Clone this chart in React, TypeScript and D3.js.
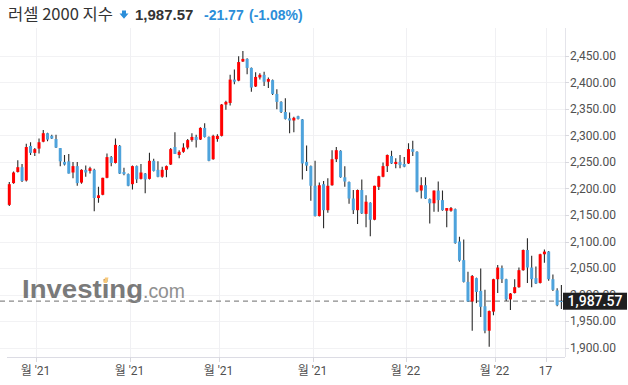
import React from "react";
import * as d3 from "d3";

const openV = [2169,2210,2231,2240,2215,2280,2267,2275,2288,2304,2299,2293,2276,2250,2251,2230,2242,2211,2235,2233,2235,2182,2188,2220,2259,2248,2280,2231,2227,2208,2242,2218,2228,2218,2252,2235,2222,2235,2245,2278,2263,2269,2277,2291,2297,2292,2314,2297,2255,2293,2299,2358,2361,2405,2403,2439,2444,2427,2392,2409,2414,2401,2404,2378,2363,2344,2332,2328,2336,2330,2250,2242,2205,2148,2208,2159,2206,2255,2271,2221,2212,2181,2159,2197,2152,2173,2141,2203,2222,2242,2261,2246,2250,2246,2247,2274,2269,2196,2206,2180,2172,2196,2178,2158,2158,2161,2100,2065,2024,1987,2031,2007,1978,1932,1968,2029,2050,2029,1991,2003,2014,2046,2084,2051,2031,2022,2076,2081,2029,2008,1988];
const highV = [2212,2232,2253,2246,2284,2287,2276,2294,2310,2305,2301,2301,2276,2263,2265,2250,2250,2236,2243,2241,2237,2203,2220,2266,2261,2294,2282,2239,2228,2243,2243,2246,2229,2267,2256,2251,2241,2243,2276,2306,2272,2285,2293,2304,2301,2315,2323,2298,2301,2302,2359,2365,2414,2424,2449,2459,2445,2428,2419,2417,2420,2409,2405,2387,2364,2370,2343,2335,2337,2331,2281,2243,2252,2211,2214,2219,2272,2278,2272,2242,2213,2197,2198,2217,2187,2174,2205,2224,2249,2264,2271,2257,2263,2259,2285,2290,2270,2221,2221,2181,2196,2213,2196,2163,2165,2162,2109,2104,2043,2037,2032,2049,2009,1970,2030,2056,2055,2030,2003,2029,2051,2085,2106,2073,2053,2077,2085,2082,2038,2012,2018];
const lowV = [2167,2209,2230,2212,2213,2263,2261,2266,2287,2289,2293,2276,2242,2243,2228,2219,2205,2209,2222,2228,2157,2173,2187,2219,2242,2247,2227,2225,2204,2198,2210,2217,2191,2217,2232,2221,2220,2221,2244,2265,2257,2267,2274,2288,2277,2291,2296,2251,2254,2288,2298,2348,2356,2396,2402,2438,2415,2382,2391,2405,2393,2389,2376,2349,2342,2330,2304,2306,2330,2217,2233,2177,2147,2147,2125,2154,2205,2250,2220,2203,2171,2152,2133,2152,2127,2110,2140,2197,2221,2231,2246,2238,2238,2240,2246,2261,2193,2181,2180,2134,2156,2156,2158,2127,2156,2096,2062,2023,1986,1932,1984,1958,1927,1902,1961,2003,2022,1988,1971,2002,2013,2045,2022,2014,2020,2021,2060,2026,2007,1978,1973];
const closeV = [2208,2230,2240,2214,2278,2267,2274,2287,2304,2292,2294,2277,2251,2245,2228,2242,2210,2235,2230,2238,2182,2187,2220,2259,2248,2282,2228,2227,2205,2242,2217,2230,2217,2252,2233,2222,2235,2242,2274,2265,2269,2277,2291,2297,2291,2314,2297,2252,2299,2299,2358,2363,2405,2401,2438,2444,2427,2390,2410,2414,2401,2406,2378,2363,2344,2331,2328,2333,2331,2247,2243,2205,2148,2206,2159,2205,2255,2272,2221,2213,2181,2159,2197,2153,2175,2141,2205,2223,2242,2263,2247,2250,2244,2241,2274,2269,2194,2206,2181,2172,2196,2178,2159,2163,2163,2097,2064,2024,1987,2035,2005,1977,1932,1969,2029,2051,2029,1991,2002,2014,2046,2084,2051,2029,2021,2076,2081,2029,2009,1980,1987.57];

const yTickValues = [1900,1950,2000,2050,2100,2150,2200,2250,2300,2350,2400,2450];
const xTickIndex = [7,29,50,72,94,115,127];
const xTickLabels = ["월 '21","월 '21","월 '21","월 '21","월 '22","월 '22","17"];

const titleText = "러셀 2000 지수";
const lastPrice = 1987.57;
const changeText = "-21.77";
const changePctText = "(-1.08%)";

const RED = "#ff0000";
const BLUE = "#4ea3dc";
const WICK = "#2a2a2a";
const HEAD_BLUE = "#2b8ed9";

export default function App() {
  const N = openV.length;
  const x = d3.scaleLinear().domain([0, N - 1]).range([9.3, 561.4]);
  const y = d3.scaleLinear().domain([1900, 2450]).range([347.7, 55.7]);
  const fmt = d3.format(",.2f");
  const plotTop = 28;
  const plotBottom = 357;
  const axisX = 565;
  const bodyW = 3;
  const py = y(lastPrice);

  return (
    <svg width={628} height={385} style={{ position: "absolute", left: 0, top: 0, background: "#fff" }}
      fontFamily="Roboto, 'Noto Sans', sans-serif">
      <defs>
        <clipPath id="plotclip">
          <rect x={0} y={plotTop} width={562.5} height={plotBottom - plotTop} />
        </clipPath>
      </defs>
      {yTickValues.map((v) => (
        <line key={"hg" + v} x1={0} x2={axisX} y1={Math.round(y(v)) + 0.5} y2={Math.round(y(v)) + 0.5}
          stroke="#f2f2f4" strokeWidth={1} />
      ))}
      {xTickIndex.map((i, k) => (
        <line key={"vg" + k} x1={Math.round(x(i - 0.6)) + 0.5} x2={Math.round(x(i - 0.6)) + 0.5}
          y1={plotTop} y2={plotBottom} stroke="#f0f0f3" strokeWidth={1} />
      ))}
      <g opacity={0.9}>
        <text x={22} y={298} fontFamily="'Liberation Sans', Arial, sans-serif" fontWeight="bold" fontSize={26}
          fill="#6c6c6c" textLength={121} lengthAdjust="spacingAndGlyphs">Investing</text>
        <text x={143} y={298} fontFamily="'Liberation Sans', Arial, sans-serif" fontSize={20}
          fill="#858585" textLength={42} lengthAdjust="spacingAndGlyphs">.com</text>
        <path d="M103.5,283 L105,277.5 L108.5,277.5 L107,283 Z" fill="#f8c36b" />
      </g>
      <line x1={0} x2={563} y1={py} y2={py} stroke="#8a8a8a" strokeWidth={1.3} strokeDasharray="5,4" />
      <g clipPath="url(#plotclip)">
        {openV.map((o, i) => {
          const c = closeV[i];
          const up = c >= o;
          const cx = x(i);
          const top = y(Math.max(o, c));
          const bot = y(Math.min(o, c));
          return (
            <g key={"c" + i}>
              <line x1={cx} x2={cx} y1={y(highV[i])} y2={y(lowV[i])} stroke={WICK} strokeWidth={1.1} />
              <rect x={cx - bodyW / 2} y={top} width={bodyW} height={Math.max(1, bot - top)} fill={up ? RED : BLUE} />
            </g>
          );
        })}
      </g>
      <line x1={axisX + 0.5} x2={axisX + 0.5} y1={plotTop} y2={plotBottom} stroke="#e4e4ea" strokeWidth={1} />
      {yTickValues.map((v) => (
        <g key={"yt" + v}>
          <line x1={axisX} x2={axisX + 4} y1={Math.round(y(v)) + 0.5} y2={Math.round(y(v)) + 0.5} stroke="#d8d8de" />
          <text x={570} y={y(v)} dy="0.36em" fontSize={12} fill="#505050">{fmt(v)}</text>
        </g>
      ))}
      <rect x={563} y={py - 8.5} width={64} height={17} fill="#1f1f1f" />
      <text x={595} y={py} dy="0.36em" textAnchor="middle" fontSize={14} fontWeight={500} fill="#ffffff">{fmt(lastPrice)}</text>
      <line x1={7} x2={axisX} y1={plotBottom + 0.5} y2={plotBottom + 0.5} stroke="#dcdce4" strokeWidth={1} />
      {xTickIndex.map((i, k) => {
        const tx = Math.round(x(i - 0.6)) + 0.5;
        return (
          <g key={"xt" + k}>
            <line x1={tx} x2={tx} y1={plotBottom} y2={plotBottom + 5} stroke="#d8d8de" />
            <text x={tx - 1} y={375} textAnchor="middle" fontSize={12} fill="#505050"
              fontFamily="Roboto, 'Noto Sans CJK KR', sans-serif">{xTickLabels[k]}</text>
          </g>
        );
      })}
      <text x={8} y={20} fontSize={16} fill="#333" fontFamily="'Noto Sans CJK KR', 'Noto Sans', sans-serif"
        textLength={105} lengthAdjust="spacingAndGlyphs">{titleText}</text>
      <path d="M122,10.5 L126,10.5 L126,13.5 L128.5,13.5 L124,18.8 L119.5,13.5 L122,13.5 Z" fill={HEAD_BLUE} />
      <text x={135} y={19.5} fontSize={15} fontWeight="bold" fill="#333" fontFamily="'Liberation Sans', Arial, sans-serif">{fmt(lastPrice)}</text>
      <text x={204} y={19.5} fontSize={14} fontWeight="bold" fill={HEAD_BLUE} fontFamily="'Liberation Sans', Arial, sans-serif">{changeText}</text>
      <text x={249} y={19.5} fontSize={14} fontWeight="bold" fill={HEAD_BLUE} fontFamily="'Liberation Sans', Arial, sans-serif">{changePctText}</text>
    </svg>
  );
}
